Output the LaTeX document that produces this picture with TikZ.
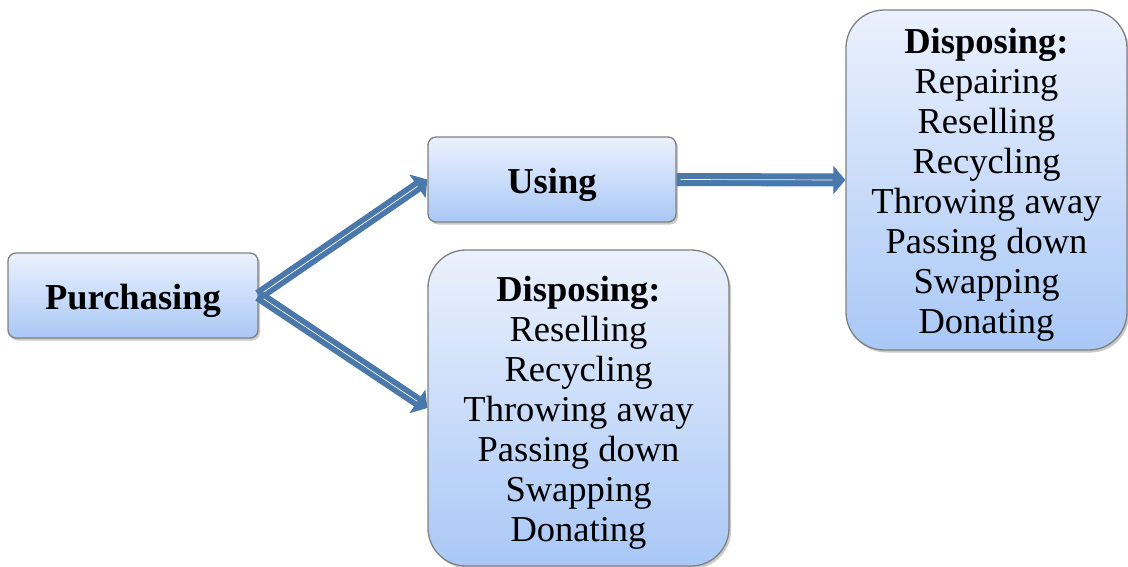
\documentclass[tikz,border=0pt]{standalone}
\usepackage{fontspec}
\setmainfont{Liberation Serif}
\usetikzlibrary{arrows.meta,shadows}
\definecolor{boxtop}{HTML}{EBF1FD}
\definecolor{boxbot}{HTML}{A9C8F6}
\definecolor{boxline}{HTML}{808080}
\definecolor{arrowblue}{HTML}{4A78AA}
\tikzset{
  box/.style={draw=boxline, line width=1.3pt, top color=boxtop, bottom color=boxbot,
    inner sep=0pt,
    drop shadow={opacity=0.35, shadow xshift=2pt, shadow yshift=-2.5pt, fill=black!60}},
  smallbox/.style={box, rounded corners=8pt},
  bigbox/.style={box, rounded corners=38pt},
  txt/.style={align=center, inner sep=0pt, font=\fontsize{36.5}{40}\selectfont},
  fatarrow/.style={draw=arrowblue, line width=#1, -{Triangle[length=12pt,width=28pt]}},
  innerline/.style={draw=white, line width=0.7pt},
}
\begin{document}
\begin{tikzpicture}[x=1pt,y=-1pt]
\useasboundingbox (0,0) rectangle (1128,567);
\node[smallbox, minimum width=250pt, minimum height=85pt] (p) at (133,295.5) {};
\node[smallbox, minimum width=248pt, minimum height=85pt] (u) at (552,179.5) {};
\node[bigbox, minimum width=301pt, minimum height=316pt] (d1) at (578.5,408) {};
\node[bigbox, minimum width=281pt, minimum height=340pt] (d2) at (986.5,180) {};
\node[txt] (pt) at ([yshift=-5pt]p.center) {\bfseries Purchasing};
\node[txt] (ut) at ([yshift=-5pt]u.center) {\bfseries Using};
\node[txt] (d1t) at ([yshift=-5pt]d1.center)
  {\bfseries Disposing:\\Reselling\\Recycling\\Throwing away\\Passing down\\Swapping\\Donating};
\node[txt] (d2t) at ([yshift=-5pt]d2.center)
  {\bfseries Disposing:\\Repairing\\Reselling\\Recycling\\Throwing away\\Passing down\\Swapping\\Donating};
% arrows
\draw[fatarrow=12pt] (p.east) -- (u.west);
\draw[fatarrow=12pt] (p.east) -- (d1.west);
\draw[fatarrow=13pt] (u.east) -- (d2.west);
\draw[innerline, shorten <=6pt, shorten >=12pt] (p.east) -- (u.west);
\draw[innerline, shorten <=6pt, shorten >=12pt] (p.east) -- (d1.west);
\draw[innerline, shorten <=4pt, shorten >=13pt] (u.east) -- (d2.west);
\end{tikzpicture}
\end{document}
